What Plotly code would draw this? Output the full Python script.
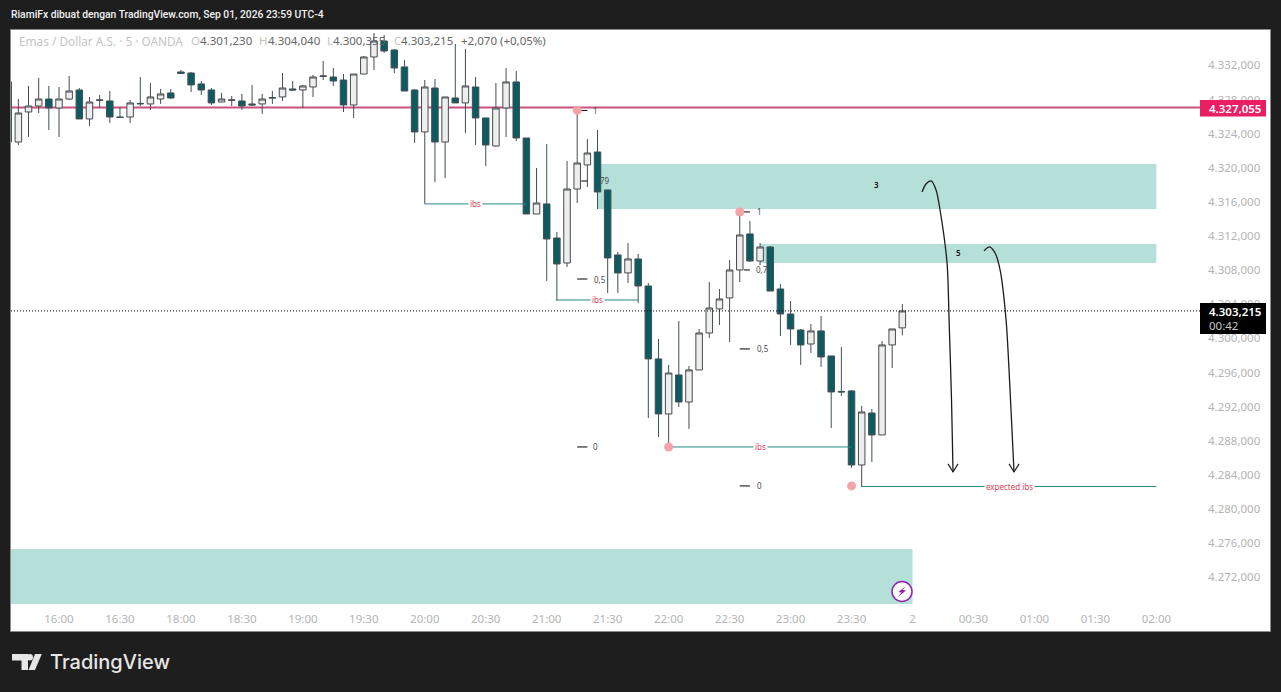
import plotly.graph_objects as go

bars = list(range(-5, 84))
opens = [4330.06,4323.02,4326.54,4327.24,4328.06,4327.01,4328.06,4329.12,4325.72,4327.90,4327.83,4325.95,4325.95,4327.55,4327.48,4328.06,4328.77,4331.23,4331.11,4329.83,4329.12,4327.71,4327.90,4327.83,4327.48,4327.48,4328.24,4328.30,4329.24,4329.12,4329.47,4330.70,4330.64,4330.29,4327.36,4330.99,4332.99,4334.86,4333.81,4331.82,4329.12,4324.20,4329.35,4323.02,4328.18,4327.60,4329.47,4325.84,4322.55,4327.01,4330.06,4323.49,4314.58,4315.76,4311.77,4308.84,4317.51,4320.33,4321.85,4317.40,4309.78,4307.67,4309.31,4306.14,4297.59,4291.14,4295.71,4292.54,4296.30,4300.63,4303.45,4304.74,4308.02,4312.24,4309.07,4310.71,4305.79,4302.86,4300.98,4299.34,4300.87,4297.94,4293.78,4293.84,4285.16,4291.25,4288.68,4299.23,4301.23]
highs = [4330.06,4328.06,4329.59,4330.53,4329.59,4329.47,4330.76,4329.35,4328.30,4328.53,4329.00,4327.13,4327.95,4330.64,4329.94,4329.24,4329.24,4331.46,4331.23,4330.17,4329.35,4328.77,4328.42,4328.65,4329.71,4328.65,4329.00,4331.11,4330.17,4329.71,4330.88,4332.52,4331.70,4330.99,4330.99,4333.11,4335.80,4335.57,4333.93,4332.64,4329.24,4330.29,4330.41,4328.30,4334.51,4333.93,4330.64,4325.84,4329.94,4331.70,4331.35,4323.49,4319.98,4322.79,4312.47,4320.80,4326.54,4323.37,4324.43,4317.40,4310.13,4311.18,4309.89,4306.49,4299.93,4296.88,4302.04,4296.76,4301.10,4306.61,4305.79,4309.19,4314.82,4313.76,4311.18,4310.83,4306.38,4304.38,4301.10,4301.69,4302.63,4297.94,4298.99,4293.95,4292.07,4291.72,4299.69,4301.10,4304.04]
lows = [4323.02,4322.67,4323.61,4326.42,4324.43,4323.61,4327.95,4325.72,4324.90,4327.01,4325.25,4325.90,4325.25,4327.24,4326.78,4327.48,4328.06,4330.99,4328.88,4328.53,4327.36,4327.71,4327.24,4326.78,4327.24,4326.31,4327.48,4327.83,4329.00,4327.01,4328.30,4330.29,4329.59,4326.54,4325.84,4330.99,4331.46,4333.46,4331.11,4329.00,4322.91,4315.76,4318.33,4318.80,4327.60,4324.08,4322.67,4320.21,4322.44,4323.61,4323.14,4314.58,4314.58,4306.73,4304.38,4308.37,4315.87,4317.75,4315.17,4305.32,4305.32,4306.49,4304.15,4290.67,4288.44,4287.27,4291.96,4289.38,4296.30,4300.05,4301.57,4299.58,4306.61,4308.96,4308.60,4305.55,4300.28,4299.23,4296.88,4298.29,4296.65,4289.50,4293.25,4284.81,4282.58,4285.51,4288.68,4296.53,4300.355]
closes = [4323.02,4326.42,4327.24,4328.06,4327.01,4328.06,4329.00,4325.72,4327.71,4327.95,4325.95,4325.90,4327.60,4327.50,4328.30,4328.65,4328.18,4331.05,4329.71,4329.12,4327.60,4328.06,4327.95,4327.24,4327.36,4328.06,4328.18,4329.35,4329.12,4329.59,4330.64,4330.76,4330.17,4327.36,4330.99,4332.99,4334.86,4333.69,4331.70,4329.00,4324.20,4329.47,4323.02,4328.30,4327.60,4329.59,4325.84,4322.67,4327.01,4330.06,4323.49,4314.58,4315.87,4311.65,4308.72,4317.51,4320.56,4321.73,4317.16,4309.43,4307.67,4309.31,4306.14,4297.59,4291.14,4295.94,4292.54,4296.30,4300.63,4303.56,4304.62,4308.02,4312.12,4309.07,4310.71,4305.55,4302.86,4301.10,4299.23,4300.87,4297.82,4293.72,4293.72,4285.16,4291.37,4288.68,4299.23,4301.10,4303.215]

tick_bars = list(range(0, 109, 6))
tick_labels = ["16:00","16:30","18:00","18:30","19:00","19:30","20:00","20:30","21:00","21:30","22:00","22:30","23:00","23:30","2","00:30","01:00","01:30","02:00"]
price_ticks = list(range(4272, 4333, 4))
price_labels = ["4.272,000","4.276,000","4.280,000","4.284,000","4.288,000","4.292,000","4.296,000","4.300,000","4.304,000","4.308,000","4.312,000","4.316,000","4.320,000","4.324,000","4.328,000","4.332,000"]

alert_price = 4327.055
last_price = 4303.215

zone_x0 = [53, 69, -4.724]
zone_x1 = [108, 108, 84]
zone_top = [4320.45, 4311.07, 4275.31]
zone_bottom = [4315.17, 4308.84, 4268.86]

ibs_x0 = [36, 49, 60, 79]
ibs_x1 = [46, 57, 78, 108]
ibs_price = [4315.76, 4304.50, 4287.27, 4282.64]
ibs_text = ["ibs", "ibs", "ibs", "expected ibs"]
ibs_label_x = [41, 53, 69, 93.5]

fib_x0 = [51, 51.4, 51, 51, 67, 67.4, 67, 67]
fib_x1 = [52, 52, 52, 52, 68, 68, 68, 68]
fib_price = [4326.72, 4318.45, 4306.96, 4287.27, 4314.82, 4308.02, 4298.76, 4282.70]
fib_text = ["1", "79", "0,5", "0", "1", "0,7", "0,5", "0"]
fib_label_x = [52.8, 53.74, 53.25, 52.85, 68.9, 69.2, 69.24, 68.9]

dot_x = [51, 67, 60, 78]
dot_price = [4326.72, 4314.82, 4287.27, 4282.70]

note_x = [80.5, 88.5]
note_price = [4317.98, 4310.01]
note_text = ["3", "5"]

arc1_x = [84.94, 85.33, 85.83, 86.32, 86.71, 87.40, 87.60, 87.84, 87.99]
arc1_p = [4317.16, 4318.10, 4318.45, 4317.40, 4315.05, 4308.84, 4302.16, 4292.78, 4284.34]
head1_x = [87.50, 87.99, 88.48]
arc2_x = [91.04, 91.34, 91.63, 92.13, 92.62, 93.21, 93.60, 93.99]
arc2_p = [4310.25, 4310.60, 4310.71, 4310.01, 4308.02, 4302.16, 4293.95, 4284.34]
head2_x = [93.50, 93.99, 94.49]
head_p = [4285.28, 4284.34, 4285.28]

UI = "Noto Sans"
L, R, T, B = 11, 1197, 30, 604


def fx(x):
    return (x - L) / (R - L)


def fy(y):
    return (B - y) / (B - T)


def poly(points):
    return "M" + " L".join(f"{fx(a):.5f},{fy(b):.5f}" for a, b in points) + " Z"


fig = go.Figure()
fig.add_trace(go.Candlestick(
    x=bars, open=opens, high=highs, low=lows, close=closes,
    increasing=dict(line=dict(color="#474c4e", width=1), fillcolor="#eeeeee"),
    decreasing=dict(line=dict(color="#3e5154", width=1), fillcolor="#0d5b61"),
    whiskerwidth=0, hoverinfo="skip", showlegend=False,
))
for a, b, p in zip(ibs_x0, ibs_x1, ibs_price):
    fig.add_trace(go.Scatter(x=[a, b], y=[p, p], mode="lines", line=dict(color="#26897f", width=1),
                             hoverinfo="skip", showlegend=False))
for a, b, p in zip(fib_x0, fib_x1, fib_price):
    fig.add_trace(go.Scatter(x=[a, b], y=[p, p], mode="lines", line=dict(color="#000000", width=1),
                             hoverinfo="skip", showlegend=False))
fig.add_trace(go.Scatter(x=dot_x, y=dot_price, mode="markers", marker=dict(color="#f4a3aa", size=9),
                         hoverinfo="skip", showlegend=False))
for xs, ps in ((arc1_x, arc1_p), (arc2_x, arc2_p)):
    fig.add_trace(go.Scatter(x=xs, y=ps, mode="lines", line=dict(color="#1c1c1c", width=1.3, shape="spline", smoothing=0.8),
                             hoverinfo="skip", showlegend=False))
for xs in (head1_x, head2_x):
    fig.add_trace(go.Scatter(x=xs, y=head_p, mode="lines", line=dict(color="#1c1c1c", width=1.2),
                             hoverinfo="skip", showlegend=False))

shapes = [
    dict(type="rect", xref="paper", yref="paper", layer="below",
         x0=fx(10.5), x1=fx(1270.5), y0=fy(631.5), y1=fy(29.5),
         fillcolor="#ffffff", line=dict(color="#8c8c8c", width=1)),
]
for a, b, t, d in zip(zone_x0, zone_x1, zone_top, zone_bottom):
    shapes.append(dict(type="rect", xref="x", yref="y", layer="below", x0=a, x1=b, y0=d, y1=t,
                       fillcolor="#b5e0da", line=dict(width=0)))
shapes.append(dict(type="line", xref="paper", yref="y", layer="below", x0=0, x1=fx(1200), y0=alert_price, y1=alert_price,
                   line=dict(color="#c9527f", width=2)))
shapes.append(dict(type="line", xref="paper", yref="y", layer="above", x0=0, x1=fx(1200), y0=last_price, y1=last_price,
                   line=dict(color="#000000", width=1, dash="1px,2px")))
shapes.append(dict(type="rect", xref="paper", yref="paper", x0=fx(1200), x1=fx(1266), y0=fy(116.5), y1=fy(100),
                   fillcolor="#e91e63", line=dict(width=0)))
shapes.append(dict(type="rect", xref="paper", yref="paper", x0=fx(1200), x1=fx(1266), y0=fy(334), y1=fy(303),
                   fillcolor="#000000", line=dict(width=0)))
shapes.append(dict(type="circle", xref="paper", yref="paper", x0=fx(892), x1=fx(912), y0=fy(601.5), y1=fy(581.5),
                   fillcolor="#ffffff", line=dict(color="#8e24aa", width=1.5)))
shapes.append(dict(type="path", xref="paper", yref="paper", line=dict(width=0), fillcolor="#8e24aa",
                   path=poly([(906, 586), (898.5, 592), (901.5, 592.5), (898, 597), (906, 590.5), (902.5, 590)])))
logo = "#e6e6e6"
shapes.append(dict(type="path", xref="paper", yref="paper", line=dict(width=0), fillcolor=logo,
                   path=poly([(12, 654), (28, 654), (28, 670), (21.5, 670), (21.5, 660.5), (12, 660.5)])))
shapes.append(dict(type="circle", xref="paper", yref="paper", line=dict(width=0), fillcolor=logo,
                   x0=fx(26.8), x1=fx(33), y0=fy(660.4), y1=fy(654)))
shapes.append(dict(type="path", xref="paper", yref="paper", line=dict(width=0), fillcolor=logo,
                   path=poly([(35, 654), (41.8, 654), (35, 670), (28.5, 670)])))

ann = []


def pxtext(x, y, text, color, size, anchor="left", family=UI, **kw):
    ann.append(dict(xref="paper", yref="paper", x=fx(x), y=fy(y), text=text, showarrow=False, xanchor=anchor,
                    yanchor="middle", font=dict(family=family, size=size, color=color, **kw)))


for x, p, t in zip(ibs_label_x, ibs_price, ibs_text):
    ann.append(dict(x=x, y=p, xref="x", yref="y", text=t, showarrow=False, bgcolor="#ffffff", borderpad=1,
                    font=dict(family=UI, size=8, color="#e0455a")))
for x, p, t in zip(fib_label_x, fib_price, fib_text):
    ann.append(dict(x=x, y=p, xref="x", yref="y", text=t, showarrow=False,
                    font=dict(family=UI, size=8, color="#4a4a4a")))
for x, p, t in zip(note_x, note_price, note_text):
    ann.append(dict(x=x, y=p, xref="x", yref="y", text=t, showarrow=False,
                    font=dict(family=UI, size=8, color="#111111", weight=600)))

pxtext(9, 14, "RiamiFx dibuat dengan TradingView.com, Sep 01, 2026 23:59 UTC-4", "#f2f2f2", 10.3, family="Roboto", weight=500)
pale = "#c4c4c4"
val = "#666666"
pxtext(17, 41, "Emas / Dollar A.S. · 5 · OANDA", pale, 11.8)
pxtext(189, 41, "O", pale, 11.5)
pxtext(198, 41, "4.301,230", val, 11.5)
pxtext(257, 41, "H", pale, 11.5)
pxtext(266, 41, "4.304,040", val, 11.5)
pxtext(325, 41, "L", pale, 11.5)
pxtext(331, 41, "4.300,355", val, 11.5)
pxtext(392, 41, "C", pale, 11.5)
pxtext(399, 41, "4.303,215", val, 11.5)
pxtext(459, 41, "+2,070 (+0,05%)", val, 11.5)

pxtext(1207, 108, "4.327,055", "#ffffff", 11.5, weight=600)
pxtext(1207, 311, "4.303,215", "#ffffff", 11.5, weight=600)
pxtext(1207, 325, "00:42", "#c8c8c8", 11.5)
pxtext(48, 662, "TradingView", logo, 20, family="Inter", weight=500)

fig.update_layout(
    width=1281, height=692, autosize=False,
    paper_bgcolor="#1e1e1e", plot_bgcolor="#ffffff",
    margin=dict(l=L, r=1281 - R, t=T, b=692 - B, pad=0),
    showlegend=False, shapes=shapes, annotations=ann,
    boxgap=0.2, boxgroupgap=0.2,
    xaxis=dict(range=[-4.724, 112.0], tickmode="array", tickvals=tick_bars, ticktext=tick_labels,
               rangeslider=dict(visible=False), showgrid=False, zeroline=False, showline=False,
               ticks="", tickfont=dict(family=UI, size=11.5, color="#b4b4b4"), ticklabelstandoff=6),
    yaxis=dict(range=[4268.86, 4336.15], side="right", tickmode="array", tickvals=price_ticks, ticktext=price_labels,
               showgrid=False, zeroline=False, showline=False, ticks="",
               tickfont=dict(family=UI, size=11.5, color="#b4b4b4"), ticklabelstandoff=10),
)

fig.write_html("out.html", config=dict(displayModeBar=False),
               post_script="document.body.style.margin='0';document.body.style.overflow='hidden';document.body.style.background='#1e1e1e';")
